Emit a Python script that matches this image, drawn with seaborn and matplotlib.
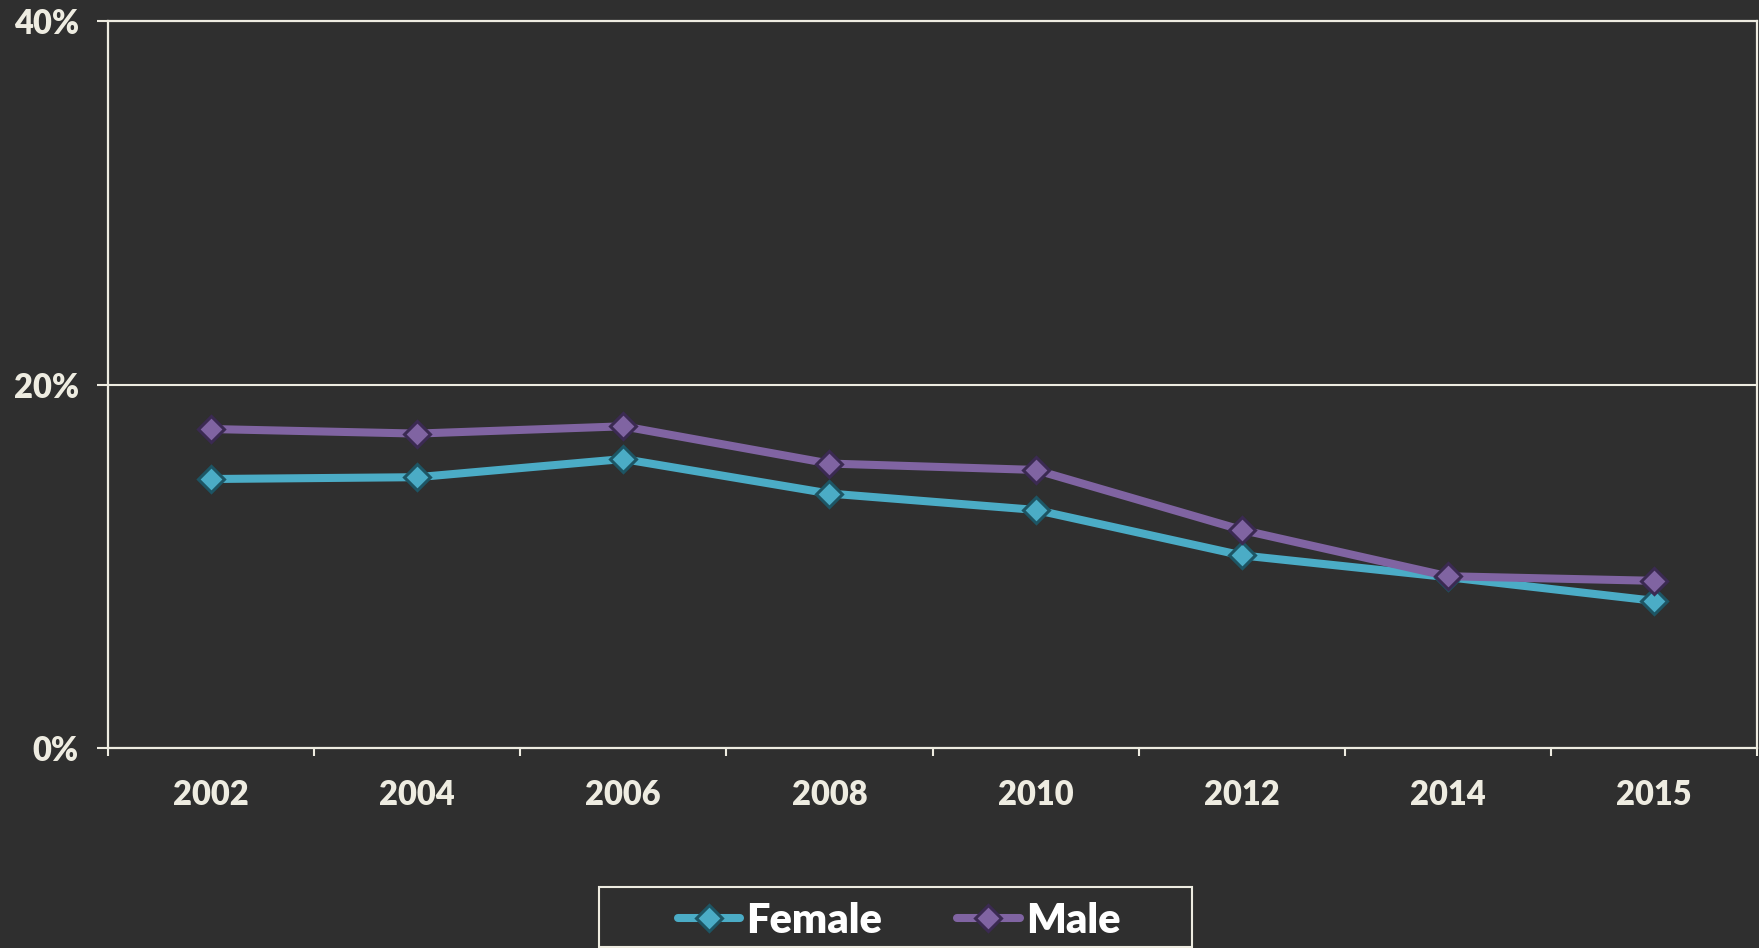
import matplotlib
matplotlib.use("Agg")
import matplotlib.pyplot as plt
from matplotlib.patches import Rectangle
from matplotlib.ticker import FixedLocator, FuncFormatter
import seaborn as sns
import pandas as pd

# ---- data ----
years = ["2002", "2004", "2006", "2008", "2010", "2012", "2014", "2015"]
female = [14.8, 14.9, 15.9, 14.0, 13.1, 10.6, 9.4, 8.1]
male = [17.55, 17.3, 17.7, 15.65, 15.3, 12.0, 9.45, 9.2]
series_names = ["Female", "Male"]
y_ticks = [0, 20, 40]

BG = "#2f2f2f"
CREAM = "#eeece1"
FEM_FILL, FEM_EDGE = "#4bacc6", "#1d5564"
MALE_FILL, MALE_EDGE = "#8064a2", "#3b2a52"
WEIGHT = "heavy"

sns.set_style("dark", rc={
    "axes.facecolor": BG,
    "figure.facecolor": BG,
    "axes.edgecolor": CREAM,
})
plt.rcParams["font.family"] = ["Lato", "DejaVu Sans"]

fig = plt.figure(figsize=(17.59, 9.48), dpi=100)
ax = fig.add_axes([108 / 1759, 1 - 748 / 948, (1757 - 108) / 1759, (748 - 21) / 948])

df_f = pd.DataFrame({"year": years, "value": female})
df_m = pd.DataFrame({"year": years, "value": male})

handles = []
for df, name, fc, ec in [(df_f, series_names[0], FEM_FILL, FEM_EDGE),
                         (df_m, series_names[1], MALE_FILL, MALE_EDGE)]:
    sns.pointplot(data=df, x="year", y="value", order=years, color=fc,
                  markers="D", errorbar=None, ax=ax, legend=False,
                  markersize=13, markeredgecolor=ec, markeredgewidth=2.2,
                  linewidth=5.8)
    ln = ax.lines[-1]
    ln.set_label(name)
    ln.set_markerfacecolor(fc)
    ln.set_markeredgecolor(ec)
    handles.append(ln)

ax.set_xlim(-0.5, len(years) - 0.5)
ax.set_ylim(y_ticks[0], y_ticks[-1])
ax.set_xlabel("")
ax.set_ylabel("")

# y axis
ax.yaxis.set_major_locator(FixedLocator(y_ticks))
ax.yaxis.set_major_formatter(FuncFormatter(lambda v, p: f"{v:.0f}%"))
ax.tick_params(axis="y", which="major", direction="out", length=8, width=1.5,
               color=CREAM, labelcolor=CREAM, labelsize=23.5, pad=13, left=True)
for lab in ax.get_yticklabels():
    lab.set_fontweight(WEIGHT)

# x axis: labels at centres, tick marks at boundaries
ax.set_xticks(range(len(years)))
ax.set_xticklabels(years, fontweight=WEIGHT)
ax.set_xticks([i - 0.5 for i in range(len(years) + 1)], minor=True)
ax.tick_params(axis="x", which="major", length=0, labelcolor=CREAM,
               labelsize=23.5, pad=22, bottom=True)
ax.tick_params(axis="x", which="minor", direction="out", length=6, width=1.5,
               color=CREAM, bottom=True)

ax.grid(False)
ax.axhline(20, color=CREAM, lw=1.5, zorder=0.5)
for side in ["left", "bottom", "top", "right"]:
    ax.spines[side].set_visible(True)
    ax.spines[side].set_color(CREAM)
    ax.spines[side].set_linewidth(1.6)

# legend
leg = fig.legend(handles=handles, labels=series_names, loc="center",
                 bbox_to_anchor=(899 / 1759, 1 - 921 / 948), ncol=2,
                 frameon=False, handlelength=1.5, handletextpad=0.15,
                 columnspacing=1.8, prop={"weight": WEIGHT, "size": 30})
for t in leg.get_texts():
    t.set_color("white")

fig.patches.append(Rectangle((599 / 1759, 1 - 947 / 948), (1192 - 599) / 1759,
                             (947 - 887) / 948, transform=fig.transFigure,
                             fill=False, edgecolor=CREAM, linewidth=1.5))

fig.savefig("out.png", dpi=100, facecolor=BG)
